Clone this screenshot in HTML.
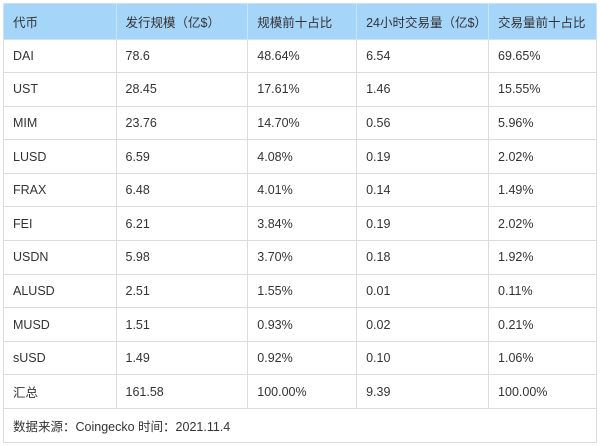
<!DOCTYPE html>
<html><head><meta charset="utf-8"><style>
body{margin:0;background:#fff;width:600px;height:446px;overflow:hidden}
table{position:absolute;left:3px;top:3px;border-collapse:collapse;width:594px;font-family:"Liberation Sans","Noto Sans CJK SC",sans-serif;font-size:12.5px;color:#333}
td{border:1px solid #dcdcdc;height:33.6px;padding:0 0 0 9px;box-sizing:border-box;white-space:nowrap}
tr.h td{background:#a6d5fa;height:35.5px;border-color:#c8e4fa}
tr.f td{height:33.5px}
</style></head><body>
<table>
<colgroup><col style="width:113px"><col style="width:132px"><col style="width:109px"><col style="width:132px"><col style="width:108px"></colgroup>
<tr class="h"><td>代币</td><td>发行规模（亿$）</td><td>规模前十占比</td><td>24小时交易量（亿$）</td><td>交易量前十占比</td></tr>
<tr><td>DAI</td><td>78.6</td><td>48.64%</td><td>6.54</td><td>69.65%</td></tr>
<tr><td>UST</td><td>28.45</td><td>17.61%</td><td>1.46</td><td>15.55%</td></tr>
<tr><td>MIM</td><td>23.76</td><td>14.70%</td><td>0.56</td><td>5.96%</td></tr>
<tr><td>LUSD</td><td>6.59</td><td>4.08%</td><td>0.19</td><td>2.02%</td></tr>
<tr><td>FRAX</td><td>6.48</td><td>4.01%</td><td>0.14</td><td>1.49%</td></tr>
<tr><td>FEI</td><td>6.21</td><td>3.84%</td><td>0.19</td><td>2.02%</td></tr>
<tr><td>USDN</td><td>5.98</td><td>3.70%</td><td>0.18</td><td>1.92%</td></tr>
<tr><td>ALUSD</td><td>2.51</td><td>1.55%</td><td>0.01</td><td>0.11%</td></tr>
<tr><td>MUSD</td><td>1.51</td><td>0.93%</td><td>0.02</td><td>0.21%</td></tr>
<tr><td>sUSD</td><td>1.49</td><td>0.92%</td><td>0.10</td><td>1.06%</td></tr>
<tr><td>汇总</td><td>161.58</td><td>100.00%</td><td>9.39</td><td>100.00%</td></tr>
<tr class="f"><td colspan="5">数据来源：Coingecko 时间：2021.11.4</td></tr>
</table>
</body></html>
